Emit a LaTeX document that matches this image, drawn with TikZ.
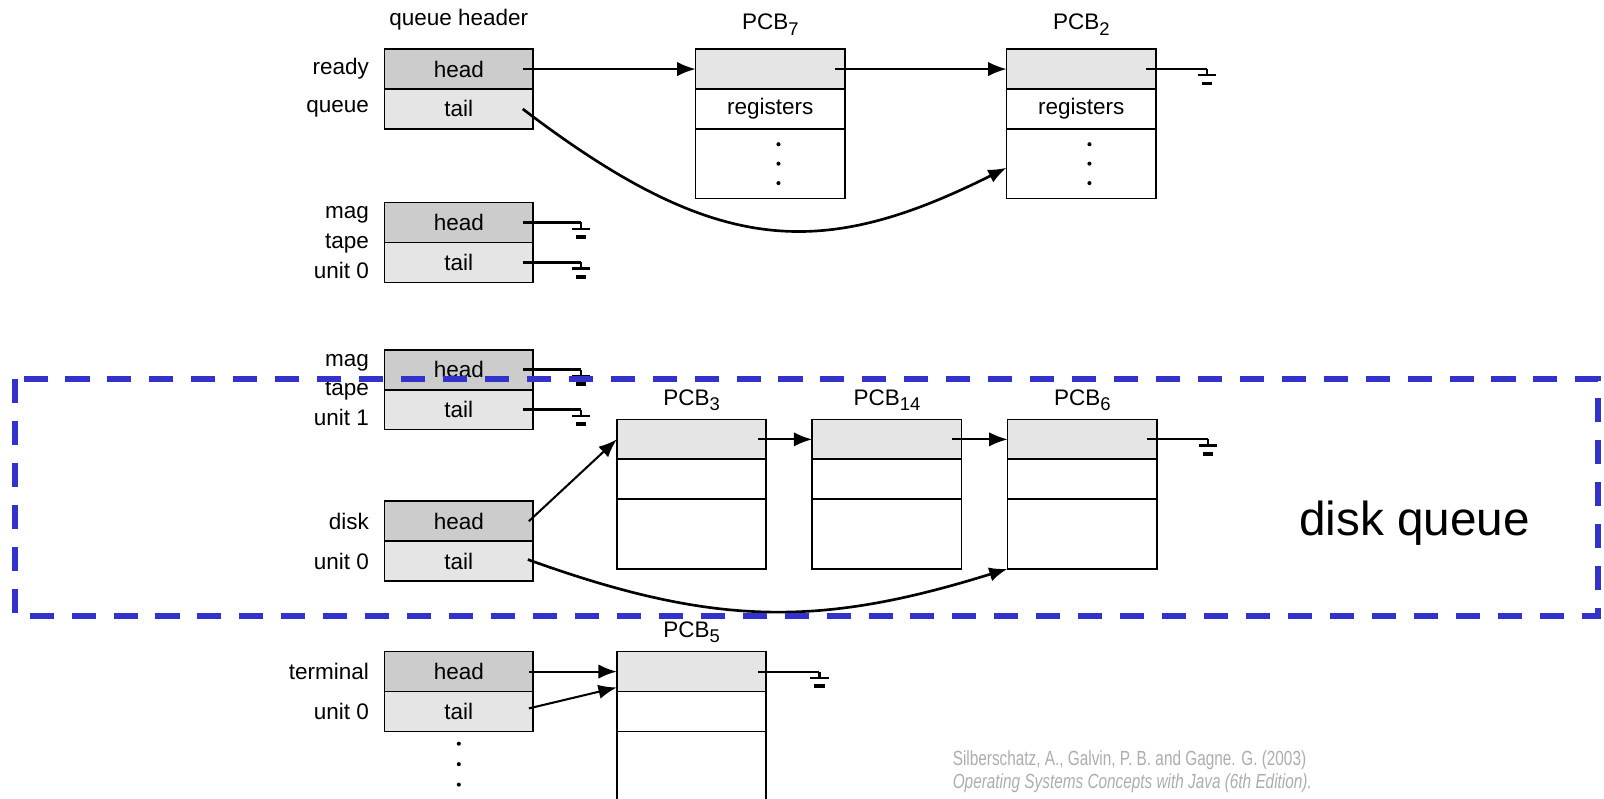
\documentclass[tikz,border=0pt]{standalone}
\usepackage{fontspec}
\setsansfont{Liberation Sans}
\newfontfamily\citefont[FakeStretch=0.75]{Liberation Sans}
\usetikzlibrary{positioning,arrows.meta}

\definecolor{headgray}{gray}{0.8}
\definecolor{tailgray}{gray}{0.9}
\definecolor{dqblue}{RGB}{51,51,204}
\definecolor{citegray}{gray}{0.68}

% lowered subscript as in the book figure
\newcommand{\pcbsub}[1]{\raisebox{-0.45ex}{\fontsize{9pt}{9pt}\selectfont #1}}

\tikzset{
  earth/.pic={
    \draw[line width=1.1pt] (0,0) -- (0,6) (-9,6) -- (9,6);
    \draw[line width=1.8pt] (-5,14) -- (5,14);
  }
}

\begin{document}
\begin{tikzpicture}[
    x=0.5pt, y=-0.5pt,
    font=\sffamily\fontsize{11pt}{13pt}\selectfont,
    cell/.style={draw, line width=0.8pt, minimum width=72.5pt, minimum height=19.5pt, inner sep=0pt, outer sep=0pt},
    headcell/.style={cell, fill=headgray},
    tailcell/.style={cell, fill=tailgray},
    pcbtop/.style={cell, minimum width=73pt, fill=tailgray},
    pcbmid/.style={cell, minimum width=73pt},
    pcbrest/.style={cell, minimum width=73pt, minimum height=34pt},
    side/.style={inner sep=0pt, align=right, font=\sffamily\fontsize{11pt}{14.5pt}\selectfont},
    pcblabel/.style={inner sep=0pt, anchor=base},
    ptr/.style={line width=1pt, -{Latex[length=9pt,width=7pt]}},
    bent/.style={ptr, line width=1.3pt},
    gline/.style={line width=1pt},
    dq/.style={draw=dqblue, line width=3pt, dash pattern=on 11.75pt off 8.75pt}
]
\useasboundingbox (0,0) rectangle (1568,781);

% === ready queue ===
\node[headcell] (rq-h) at (448.5,67.5) {head};
\node[tailcell, below=0pt of rq-h] (rq-t) {tail};
\node[side, left=7.5pt of rq-h] (rq-l1) {ready};
\node[side, left=7.5pt of rq-t] (rq-l2) {queue};
\node[above=11.5pt of rq-h.north, pcblabel] (qh-l) {queue header};

% PCB 7
\node[pcbtop] (pcb7-a) at (753,67.5) {};
\node[pcbmid, below=0pt of pcb7-a] (pcb7-b) {registers};
\node[pcbrest, below=0pt of pcb7-b] (pcb7-c) {};
\node[above=9.5pt of pcb7-a.north, pcblabel] (pcb7-l) {PCB\pcbsub{7}};

% PCB 2
\node[pcbtop, right=79pt of pcb7-a] (pcb2-a) {};
\node[pcbmid, below=0pt of pcb2-a] (pcb2-b) {registers};
\node[pcbrest, below=0pt of pcb2-b] (pcb2-c) {};
\node[above=9.5pt of pcb2-a.north, pcblabel] (pcb2-l) {PCB\pcbsub{2}};

\foreach \c in {pcb7-c,pcb2-c}
  \foreach \dy in {-19,0,19}
    \fill (\c.center) ++(8,\dy) circle[radius=1pt];

\draw[ptr] ([xshift=-5pt]rq-h.east) -- (pcb7-a.west);
\draw[ptr] ([xshift=-5pt]pcb7-a.east) -- (pcb2-a.west);
\draw[bent] ([xshift=-5pt]rq-t.east) .. controls +(189,144) and +(-182,91) .. ([yshift=-2pt]pcb2-c.west);
\draw[gline] ([xshift=-5pt]pcb2-a.east) -- ++(60,0) pic{earth};

% === mag tape unit 0 ===
\node[headcell] (mt0-h) at (448.5,217.5) {head};
\node[tailcell, below=0pt of mt0-h] (mt0-t) {tail};
\node[side, left=7.5pt of mt0-h.south west] (mt0-l) {mag\\tape\\unit 0};
\draw[gline, line width=1.4pt] ([xshift=-5pt]mt0-h.east) -- ++(57,0) pic{earth};
\draw[gline, line width=1.4pt] ([xshift=-5pt]mt0-t.east) -- ++(57,0) pic{earth};

% === mag tape unit 1 ===
\node[headcell] (mt1-h) at (448.5,361.5) {head};
\node[tailcell, below=0pt of mt1-h] (mt1-t) {tail};
\node[side, left=7.5pt of mt1-h.south west] (mt1-l) {mag\\tape\\unit 1};
\draw[gline, line width=1.4pt] ([xshift=-5pt]mt1-h.east) -- ++(57,0) pic{earth};
\draw[gline, line width=1.4pt] ([xshift=-5pt]mt1-t.east) -- ++(57,0) pic{earth};

% === disk unit 0 ===
\node[headcell] (dk-h) at (448.5,509.5) {head};
\node[tailcell, below=0pt of dk-h] (dk-t) {tail};
\node[side, left=7.5pt of dk-h] (dk-l1) {disk};
\node[side, left=7.5pt of dk-t] (dk-l2) {unit 0};

% PCB 3, 14, 6
\node[pcbtop] (pcb3-a) at (676,429.5) {};
\node[pcbmid, below=0pt of pcb3-a] (pcb3-b) {};
\node[pcbrest, below=0pt of pcb3-b] (pcb3-c) {};
\node[above=7pt of pcb3-a.north, pcblabel] (pcb3-l) {PCB\pcbsub{3}};

\node[pcbtop, right=22.5pt of pcb3-a] (pcb14-a) {};
\node[pcbmid, below=0pt of pcb14-a] (pcb14-b) {};
\node[pcbrest, below=0pt of pcb14-b] (pcb14-c) {};
\node[above=7pt of pcb14-a.north, pcblabel] (pcb14-l) {PCB\pcbsub{14}};

\node[pcbtop, right=22.5pt of pcb14-a] (pcb6-a) {};
\node[pcbmid, below=0pt of pcb6-a] (pcb6-b) {};
\node[pcbrest, below=0pt of pcb6-b] (pcb6-c) {};
\node[above=7pt of pcb6-a.north, pcblabel] (pcb6-l) {PCB\pcbsub{6}};

\draw[ptr] ([xshift=-2pt]dk-h.east) -- (pcb3-a.west);
\draw[ptr] ([xshift=-4pt]pcb3-a.east) -- (pcb14-a.west);
\draw[ptr] ([xshift=-4.5pt]pcb14-a.east) -- (pcb6-a.west);
\draw[bent] ([xshift=-2.5pt,yshift=0.75pt]dk-t.east) .. controls +(183,66) and +(-183,57) .. (pcb6-c.south west);
\draw[gline] ([xshift=-5pt]pcb6-a.east) -- ++(60,0) pic{earth};

% === terminal unit 0 ===
\node[headcell] (tm-h) at (448.5,656.5) {head};
\node[tailcell, below=0pt of tm-h] (tm-t) {tail};
\node[side, left=7.5pt of tm-h] (tm-l1) {terminal};
\node[side, left=7.5pt of tm-t] (tm-l2) {unit 0};
\foreach \dy in {12,32,52}
  \fill (tm-t.south) ++(0,\dy) circle[radius=1pt];

% PCB 5
\node[pcbtop] (pcb5-a) at (676,656.5) {};
\node[pcbmid, below=0pt of pcb5-a] (pcb5-b) {};
\node[pcbrest, minimum height=36pt, below=0pt of pcb5-b] (pcb5-c) {};
\node[above=7pt of pcb5-a.north, pcblabel] (pcb5-l) {PCB\pcbsub{5}};

\draw[ptr] ([xshift=-2pt]tm-h.east) -- (pcb5-a.west);
\draw[ptr] ([xshift=-2pt,yshift=1.5pt]tm-t.east) -- ([yshift=2pt]pcb5-a.south west);
\draw[gline] ([xshift=-4pt]pcb5-a.east) -- ++(60,0) pic{earth};

% === disk queue frame ===
\draw[dq] (14.5,370.5) rectangle (1562,602);
\node[inner sep=0pt, font=\sffamily\fontsize{23.3pt}{28pt}\selectfont] (dq-l) at (1383,511) {disk queue};

% source
\node[inner sep=0pt, anchor=west, align=left, text=citegray, font=\citefont\fontsize{10pt}{11.5pt}\selectfont] (cite) at (931,754.5)
  {Silberschatz, A., Galvin, P. B. and Gagne. G. (2003)\\\itshape Operating Systems Concepts with Java (6th Edition).};

\end{tikzpicture}
\end{document}
